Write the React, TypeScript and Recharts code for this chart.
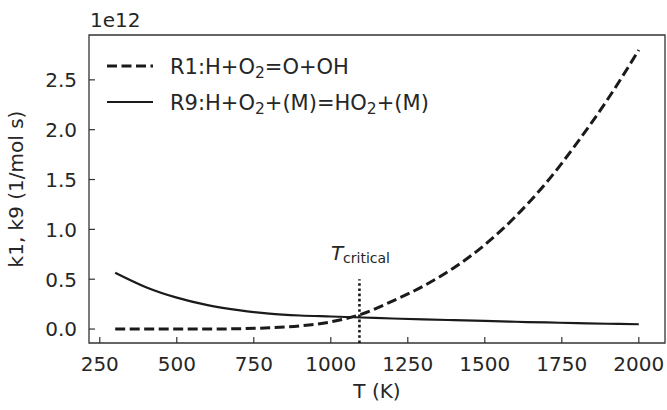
import React from 'react';
import { LineChart, Line, XAxis, YAxis, ReferenceLine, ReferenceArea, Legend, Label } from 'recharts';

const temps = [300, 400, 500, 600, 700, 800, 900, 1000, 1100, 1200, 1300, 1400, 1500, 1600, 1700, 1800, 1900, 2000];
const k1Values = [0.0, 0.0, 0.0, 0.0005, 0.003, 0.012, 0.032, 0.072, 0.15, 0.28, 0.43, 0.615, 0.845, 1.13, 1.47, 1.87, 2.31, 2.8];
const k9Values = [0.565, 0.42, 0.315, 0.24, 0.19, 0.155, 0.136, 0.126, 0.116, 0.106, 0.097, 0.089, 0.081, 0.073, 0.066, 0.059, 0.053, 0.048];
const xTicks = [250, 500, 750, 1000, 1250, 1500, 1750, 2000];
const yTicks = [0, 0.5, 1.0, 1.5, 2.0, 2.5];
const tCritical = 1093;
const critTop = 0.5;
const xDomain = [215, 2085];
const yDomain = [-0.14, 2.95];

const seriesNames = {
  k1: 'R1:H+O2=O+OH',
  k9: 'R9:H+O2+(M)=HO2+(M)',
};

const data = temps.map((t, i) => ({ T: t, k1: k1Values[i], k9: k9Values[i] }));

const FONT = 'DejaVu Sans, sans-serif';
const TXT = '#262626';
const AX = '#333333';
const FS = 20;
const LFS = 21;

const XTick = (props: any) => {
  const { x, y, payload } = props;
  return (
    <g>
      <line x1={x} x2={x} y1={y} y2={y - 6} stroke={AX} strokeWidth={1.2} />
      <text x={x} y={y + 28} textAnchor="middle" fontFamily={FONT} fontSize={FS} fill={TXT}>
        {payload.value}
      </text>
    </g>
  );
};

const YTick = (props: any) => {
  const { x, y, payload } = props;
  return (
    <g>
      <line x1={x} x2={x + 6} y1={y} y2={y} stroke={AX} strokeWidth={1.2} />
      <text x={x - 12} y={y + 7.3} textAnchor="end" fontFamily={FONT} fontSize={FS} fill={TXT}>
        {Number(payload.value).toFixed(1)}
      </text>
    </g>
  );
};

// split a formula so that the "2" after an O becomes a subscript
const chemParts = (label: string) => {
  const out: { text: string; sub: boolean }[] = [];
  let buf = '';
  for (let i = 0; i < label.length; i++) {
    const c = label[i];
    if (c === '2' && i > 0 && label[i - 1] === 'O') {
      if (buf) out.push({ text: buf, sub: false });
      buf = '';
      out.push({ text: '2', sub: true });
    } else {
      buf += c;
    }
  }
  if (buf) out.push({ text: buf, sub: false });
  return out;
};

const ChemText = ({ label, x, y }: { label: string; x: number; y: number }) => {
  const parts = chemParts(label);
  let prevSub = false;
  return (
    <text x={x} y={y} fontFamily={FONT} fontSize={LFS} fill={TXT}>
      {parts.map((p, i) => {
        let dy = 0;
        if (p.sub) dy = 4;
        else if (prevSub) dy = -4;
        prevSub = p.sub;
        return (
          <tspan key={i} dy={dy} fontSize={p.sub ? 15.5 : LFS}>
            {p.text}
          </tspan>
        );
      })}
    </text>
  );
};

const LegendContent = (props: any) => {
  const { payload } = props;
  return (
    <svg width={380} height={70} style={{ overflow: 'visible' }}>
      {(payload || []).map((p: any, i: number) => {
        const y = 20 + i * 36;
        const dashed = p.dataKey === 'k1';
        return (
          <g key={p.dataKey}>
            <line
              x1={0}
              x2={46}
              y1={y}
              y2={y}
              stroke="#1a1a1a"
              strokeWidth={dashed ? 3 : 2.2}
              strokeDasharray={dashed ? '10 4.5' : undefined}
            />
            <ChemText label={seriesNames[p.dataKey as 'k1' | 'k9']} x={63} y={y + 7.5} />
          </g>
        );
      })}
    </svg>
  );
};

const CritLabel = (props: any) => {
  const vb = props.viewBox || {};
  const x = vb.x ?? 0;
  const y = vb.y ?? 0;
  return (
    <text x={x + 1} y={y - 19} textAnchor="middle" fontFamily={FONT} fontSize={FS} fill={TXT}>
      <tspan fontStyle="italic">T</tspan>
      <tspan fontSize={14} dy={3}>critical</tspan>
    </text>
  );
};

export default function App() {
  return (
    <div style={{ position: 'absolute', left: 0, top: 0, width: 667, height: 410, background: '#fff' }}>
      <LineChart width={667} height={410} data={data} margin={{ top: 35, right: 2, bottom: 0, left: 0 }}>
        <XAxis
          dataKey="T"
          type="number"
          domain={xDomain}
          ticks={xTicks}
          allowDataOverflow
          height={67}
          tickSize={0}
          tickMargin={0}
          axisLine={false}
          tickLine={false}
          tick={<XTick />}
          interval={0}
        >
          <Label
            content={(p: any) => {
              const vb = p.viewBox;
              return (
                <text x={vb.x + vb.width / 2} y={vb.y + 55} textAnchor="middle" fontFamily={FONT} fontSize={FS} fill={TXT}>
                  T (K)
                </text>
              );
            }}
          />
        </XAxis>
        <YAxis
          type="number"
          domain={yDomain}
          ticks={yTicks}
          allowDataOverflow
          width={89}
          tickSize={0}
          tickMargin={0}
          axisLine={false}
          tickLine={false}
          tick={<YTick />}
          interval={0}
        >
          <Label
            content={(p: any) => {
              const vb = p.viewBox;
              const cy = vb.y + vb.height / 2;
              return (
                <text
                  x={23}
                  y={cy}
                  transform={`rotate(-90, 23, ${cy})`}
                  textAnchor="middle"
                  fontFamily={FONT}
                  fontSize={FS}
                  fill={TXT}
                >
                  k1, k9 (1/mol s)
                </text>
              );
            }}
          />
          <Label
            content={(p: any) => {
              const vb = p.viewBox;
              return (
                <text x={vb.x + vb.width + 1} y={vb.y - 8} textAnchor="start" fontFamily={FONT} fontSize={FS} fill={TXT}>
                  1e12
                </text>
              );
            }}
          />
        </YAxis>
        <Legend
          layout="vertical"
          align="center"
          verticalAlign="middle"
          content={<LegendContent />}
          wrapperStyle={{ position: 'absolute', left: 107, top: 46, width: 380, height: 70 }}
        />
        <Line
          dataKey="k1"
          name={seriesNames.k1}
          type="monotone"
          stroke="#1a1a1a"
          strokeWidth={3}
          strokeDasharray="10 4.5"
          dot={false}
          activeDot={false}
          isAnimationActive={false}
        />
        <Line
          dataKey="k9"
          name={seriesNames.k9}
          type="monotone"
          stroke="#1a1a1a"
          strokeWidth={2.2}
          dot={false}
          activeDot={false}
          isAnimationActive={false}
        />
        <ReferenceLine
          segment={[
            { x: tCritical, y: yDomain[0] },
            { x: tCritical, y: critTop },
          ]}
          stroke="#1a1a1a"
          strokeWidth={2.6}
          strokeDasharray="2.6 2.6"
          label={<CritLabel />}
        />
        <ReferenceArea
          x1={xDomain[0]}
          x2={xDomain[1]}
          y1={yDomain[0]}
          y2={yDomain[1]}
          fill="none"
          fillOpacity={0}
          stroke={AX}
          strokeWidth={1.3}
        />
      </LineChart>
    </div>
  );
}
